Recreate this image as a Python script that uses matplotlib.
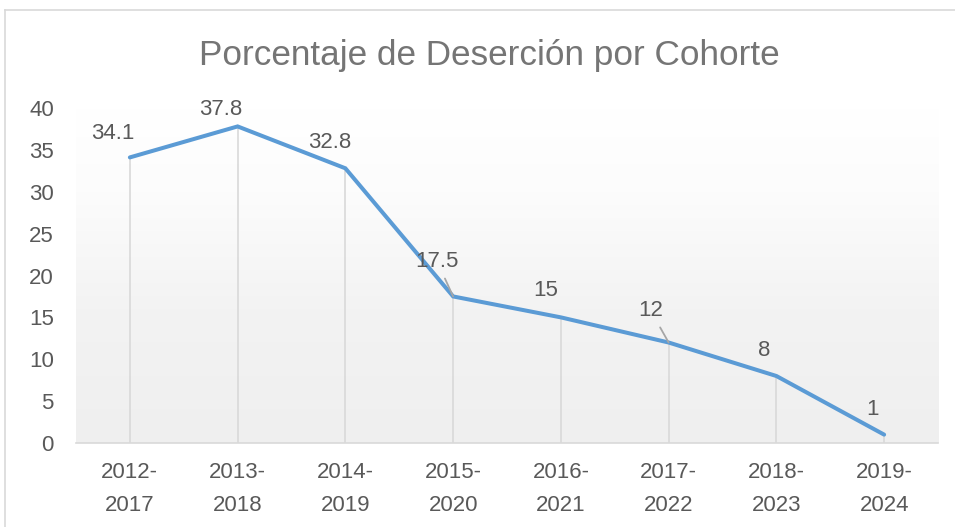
import matplotlib.pyplot as plt
import numpy as np
from matplotlib.colors import LinearSegmentedColormap
from matplotlib.lines import Line2D

# ── DATA ─────────────────────────────────────────────
cohortes = ['2012-\n2017', '2013-\n2018', '2014-\n2019', '2015-\n2020',
            '2016-\n2021', '2017-\n2022', '2018-\n2023', '2019-\n2024']
desercion = [34.1, 37.8, 32.8, 17.5, 15, 12, 8, 1]
etiquetas = ['34.1', '37.8', '32.8', '17.5', '15', '12', '8', '1']

# label offsets in pixels (labels were moved by hand in the original)
lbl_dx = [-17, -17, -16, -16, -15, -18, -12, -12]
lbl_dy = [24, 17, 26, 35, 27, 32, 25, 25]
leader = [False, False, False, True, False, True, False, False]

plt.rcParams['font.family'] = ['Liberation Sans', 'DejaVu Sans']
txt_col = '#595959'

fig = plt.figure(figsize=(9.55, 5.27), dpi=100)
ax = fig.add_axes([76 / 955, 1 - 443 / 527, (938 - 76) / 955, (443 - 108) / 527])

x = np.arange(len(cohortes))
ax.set_xlim(-0.5, len(cohortes) - 0.5)

# plot area gradient (white top -> light grey bottom)
cmap = LinearSegmentedColormap.from_list(
    'bg', [(0, '#ffffff'), (0.25, '#fcfcfc'), (0.6, '#f3f3f3'), (1, '#efefef')])
grad = np.linspace(0, 1, 256)[:, None]
ax.imshow(grad, extent=[-0.5, len(cohortes) - 0.5, 0, 40], origin='upper',
          aspect='auto', cmap=cmap, zorder=0)
ax.set_ylim(0, 40)

ax.vlines(x, 0, desercion, color='#d9d9d9', lw=1.2, zorder=1)
ax.plot(x, desercion, color='#5b9bd5', lw=2.9, solid_capstyle='round',
        solid_joinstyle='miter', zorder=3)

for xi, yi, t, dx, dy, ld in zip(x, desercion, etiquetas, lbl_dx, lbl_dy, leader):
    kw = {}
    if ld:
        kw['arrowprops'] = dict(arrowstyle='-', color='#a6a6a6', lw=1.3,
                                shrinkA=3, shrinkB=0)
    ax.annotate(t, (xi, yi), xytext=(dx, dy), textcoords='offset pixels',
                ha='center', va='center', fontsize=16, color=txt_col,
                zorder=4, annotation_clip=False, **kw)

ax.set_xticks(x)
ax.set_xticklabels(cohortes, fontsize=16, color=txt_col, linespacing=1.75)
ax.set_yticks(range(0, 41, 5))
ax.set_yticklabels([str(v) for v in range(0, 41, 5)], fontsize=16, color=txt_col)
ax.tick_params(axis='x', length=0, pad=14)
ax.tick_params(axis='y', length=0, pad=16)
for s in ['top', 'right', 'left']:
    ax.spines[s].set_visible(False)
ax.spines['bottom'].set_color('#d9d9d9')
ax.spines['bottom'].set_linewidth(1.2)

fig.text(489 / 955, 1 - 55 / 527, 'Porcentaje de Deserción por Cohorte',
         ha='center', va='center', fontsize=25.3, color='#757575')

# outer chart border
fig.add_artist(Line2D([5 / 955, 5 / 955], [0, 1 - 10 / 527],
                      transform=fig.transFigure, color='#d9d9d9', lw=1.2))
fig.add_artist(Line2D([5 / 955, 1], [1 - 10 / 527, 1 - 10 / 527],
                      transform=fig.transFigure, color='#d9d9d9', lw=1.2))

plt.savefig('out.png', dpi=100)
